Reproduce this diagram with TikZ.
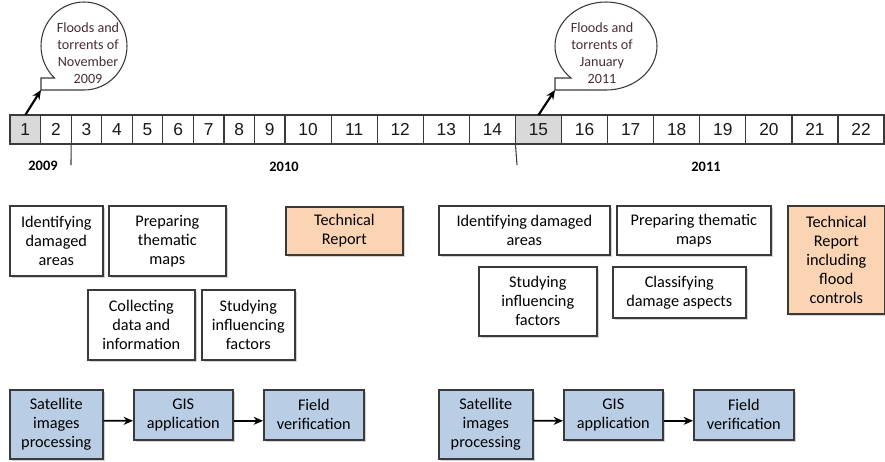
\documentclass[tikz,border=0pt]{standalone}
\usepackage{fontspec}
\setmainfont{Carlito}
\newfontfamily\numfont{Liberation Sans}
\usetikzlibrary{arrows.meta,positioning,shadows}
\definecolor{repfill}{HTML}{FBD4B4}
\definecolor{procfill}{HTML}{B9CDE5}
\definecolor{cellgray}{HTML}{D9D9D9}
\definecolor{bubtext}{HTML}{4A2C38}
\definecolor{edgegray}{HTML}{3A3A3A}

\begin{document}
\begin{tikzpicture}[>={Stealth[length=7pt, width=6pt]}, x=0.75pt, y=-0.75pt,
    sz/.style 2 args={minimum width=#1*0.75pt, minimum height=#2*0.75pt}]
    \tikzstyle{mcell} = [draw=edgegray, line width=0.9pt, inner sep=0pt, outer sep=0pt, minimum height=21.75pt, minimum width=22.92pt, font=\numfont\fontsize{13}{15}\selectfont, text=black!90]
    \tikzstyle{wcell} = [mcell, minimum width=34.56pt]
    \tikzstyle{task} = [draw=edgegray, line width=1.2pt, fill=white, anchor=north west, align=center, inner sep=2pt, font=\fontsize{12.2}{14.25}\selectfont, text=black, drop shadow={shadow xshift=1.5pt, shadow yshift=-1.5pt, opacity=0.35}]
    \tikzstyle{report} = [task, fill=repfill]
    \tikzstyle{proc} = [task, fill=procfill]
    \tikzstyle{yearlbl} = [font=\bfseries\fontsize{10.8}{12}\selectfont]
    \tikzstyle{bubble} = [draw=edgegray, line width=0.8pt, fill=white]
    \tikzstyle{bubtxt} = [align=center, text=bubtext, font=\fontsize{10.6}{12.75}\selectfont]
    \tikzstyle{flow} = [->, line width=1.3pt]

    \useasboundingbox (0,0) rectangle (885,461);

    % timeline
    \path
        node[mcell, fill=cellgray, anchor=west] (c1) at (10,129.5) {1}
        node[mcell, right=0pt of c1] (c2) {2}
        node[mcell, right=0pt of c2] (c3) {3}
        node[mcell, right=0pt of c3] (c4) {4}
        node[mcell, right=0pt of c4] (c5) {5}
        node[mcell, right=0pt of c5] (c6) {6}
        node[mcell, right=0pt of c6] (c7) {7}
        node[mcell, right=0pt of c7] (c8) {8}
        node[mcell, right=0pt of c8] (c9) {9}
        node[wcell, right=0pt of c9] (c10) {10}
        node[wcell, right=0pt of c10] (c11) {11}
        node[wcell, right=0pt of c11] (c12) {12}
        node[wcell, right=0pt of c12] (c13) {13}
        node[wcell, right=0pt of c13] (c14) {14}
        node[wcell, fill=cellgray, right=0pt of c14] (c15) {15}
        node[wcell, right=0pt of c15] (c16) {16}
        node[wcell, right=0pt of c16] (c17) {17}
        node[wcell, right=0pt of c17] (c18) {18}
        node[wcell, right=0pt of c18] (c19) {19}
        node[wcell, right=0pt of c19] (c20) {20}
        node[wcell, right=0pt of c20] (c21) {21}
        node[wcell, right=0pt of c21] (c22) {22}
        ;

    \coordinate (tk1) at (71,165);
    \coordinate (tk2) at (517,165);
    \draw[edgegray, line width=0.8pt] (c3.south west) -- (tk1);
    \draw[edgegray, line width=0.8pt] (c15.south west) -- (tk2);

    \node[yearlbl] (y09) at (43,166) {2009};
    \node[yearlbl] (y10) at (284,167) {2010};
    \node[yearlbl] (y11) at (706,167) {2011};

    % callouts
    \draw[bubble] (84,90) arc[start angle=90, end angle=-226.6, x radius=43, y radius=44]
        -- (41,78) -- (41,90) -- cycle;
    \coordinate (tip1) at (41,90);
    \node[bubtxt] (bub1) at (88,53.5) {Floods and\\torrents of\\November\\2009};
    \draw[->, line width=1.6pt] (c1.north) -- (tip1);

    \draw[bubble] (606,90) arc[start angle=90, end angle=-226.6, x radius=51, y radius=44]
        -- (555,78) -- (555,90) -- cycle;
    \coordinate (tip2) at (555,90);
    \node[bubtxt] (bub2) at (602,53.5) {Floods and\\torrents of\\January\\2011};
    \draw[->, line width=1.6pt] (c15.north) -- (tip2);

    % tasks 2009-2010
    \node[task, sz={93}{70}] (id1) at (9,205) {Identifying\\damaged\\areas};
    \node[task, sz={117}{70}] (th1) at (108,205) {Preparing\\thematic\\maps};
    \node[report, sz={117}{48}] (tr1) at (285,206) {Technical\\Report};
    \node[task, sz={107}{70}] (co1) at (87,289) {Collecting\\data and\\information};
    \node[task, sz={93}{70}] (st1) at (201,289) {Studying\\influencing\\factors};

    % tasks 2011
    \node[task, sz={171}{49}] (id2) at (438,205) {Identifying damaged\\areas};
    \node[task, sz={154}{49}] (th2) at (616,205) {Preparing thematic\\maps};
    \node[report, sz={97}{108}] (tr2) at (787,205) {Technical\\Report\\including\\flood\\controls};
    \node[task, sz={118}{69}] (st2) at (478,266) {Studying\\influencing\\factors};
    \node[task, sz={133}{51}] (cl2) at (612,266) {Classifying\\damage aspects};

    % processing chains
    \node[proc, sz={93}{69}] (sat1) at (9,389) {Satellite\\images\\processing};
    \node[proc, sz={99}{50}] (gis1) at (133,389) {GIS\\application};
    \node[proc, sz={100}{50}] (fld1) at (263,389) {Field\\verification};
    \draw[flow] ([yshift=2.6pt]sat1.east) -- ([yshift=-4.5pt]gis1.west);
    \draw[flow] ([yshift=-4.5pt]gis1.east) -- ([yshift=-4.5pt]fld1.west);

    \node[proc, sz={94}{69}] (sat2) at (438,389) {Satellite\\images\\processing};
    \node[proc, sz={99}{50}] (gis2) at (563,389) {GIS\\application};
    \node[proc, sz={100}{50}] (fld2) at (693,389) {Field\\verification};
    \draw[flow] ([yshift=2.6pt]sat2.east) -- ([yshift=-4.5pt]gis2.west);
    \draw[flow] ([yshift=-4.5pt]gis2.east) -- ([yshift=-4.5pt]fld2.west);
\end{tikzpicture}
\end{document}
